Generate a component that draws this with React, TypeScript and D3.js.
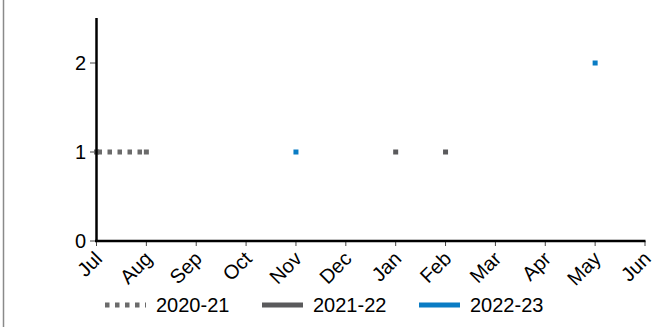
import React from 'react';
import * as d3 from 'd3';

const months = ['Jul', 'Aug', 'Sep', 'Oct', 'Nov', 'Dec', 'Jan', 'Feb', 'Mar', 'Apr', 'May', 'Jun'];
const yTicks = [0, 1, 2];
const seriesNames = ['2020-21', '2021-22', '2022-23'];
const values2020_21: (number | null)[] = [1, 1, null, null, null, null, null, null, null, null, null, null];
const values2021_22: (number | null)[] = [null, null, null, null, null, null, 1, 1, null, null, null, null];
const values2022_23: (number | null)[] = [null, null, null, null, 1, null, null, null, null, null, 2, null];

const W = 657;
const H = 327;
const FONT = 'Liberation Sans, Arial, sans-serif';

export default function App() {
  const x = d3.scalePoint<string>().domain(months).range([96.5, 645]);
  const y = d3.scaleLinear().domain([0, 2.5]).range([241, 18.5]);

  const series = [
    { name: seriesNames[0], values: values2020_21, color: '#6b6b6b', dash: '4.5 5.5', connect: true },
    { name: seriesNames[1], values: values2021_22, color: '#5a5a5c', dash: null, connect: false },
    { name: seriesNames[2], values: values2022_23, color: '#0a7cc4', dash: null, connect: false },
  ];

  const line = d3
    .line<number | null>()
    .defined((d) => d !== null)
    .x((_, i) => x(months[i]) as number)
    .y((d) => y(d as number));

  const ms = 5;

  return (
    <svg
      width={W}
      height={H}
      style={{ position: 'absolute', left: 0, top: 0, background: '#fff' }}
      fontFamily={FONT}
    >
      <rect x={0} y={0} width={W} height={H} fill="#fff" />
      <line x1={3.5} x2={3.5} y1={0} y2={H} stroke="#8a8a8a" strokeWidth={1.5} />

      {/* y ticks */}
      {yTicks.map((t) => (
        <g key={t}>
          <line x1={90} x2={96} y1={y(t)} y2={y(t)} stroke="#444" strokeWidth={1} />
          <text x={86} y={y(t)} dy="0.35em" textAnchor="end" fontSize={20} fill="#000">
            {t}
          </text>
        </g>
      ))}

      {/* x ticks */}
      {months.map((m) => (
        <g key={m}>
          <line x1={x(m)} x2={x(m)} y1={241} y2={246} stroke="#444" strokeWidth={1} />
          <text
            transform={`translate(${(x(m) as number) + 7},${260}) rotate(-45)`}
            textAnchor="end"
            fontSize={20}
            fill="#000"
          >
            {m}
          </text>
        </g>
      ))}

      {/* series */}
      {series.map((s) => (
        <g key={s.name}>
          {s.connect && (
            <path
              d={line(s.values) || ''}
              fill="none"
              stroke={s.color}
              strokeWidth={5}
              strokeDasharray={s.dash || undefined}
              strokeDashoffset={-1}
            />
          )}
          {s.values.map((v, i) =>
            v === null ? null : (
              <rect
                key={i}
                x={(x(months[i]) as number) - ms / 2}
                y={y(v) - ms / 2}
                width={ms}
                height={ms}
                fill={s.color}
              />
            )
          )}
        </g>
      ))}

      {/* axes */}
      <line x1={96.5} x2={96.5} y1={18} y2={242} stroke="#000" strokeWidth={2.5} />
      <line x1={95} x2={645.5} y1={241} y2={241} stroke="#000" strokeWidth={2.5} />

      {/* legend */}
      {series.map((s, i) => {
        const lx = 105 + i * 157;
        return (
          <g key={s.name}>
            <line
              x1={lx}
              x2={lx + 41}
              y1={305}
              y2={305}
              stroke={s.color}
              strokeWidth={5}
              strokeDasharray={s.dash || undefined}
            />
            <text x={lx + 51} y={305} dy="0.36em" fontSize={20} fill="#000">
              {s.name}
            </text>
          </g>
        );
      })}
    </svg>
  );
}
